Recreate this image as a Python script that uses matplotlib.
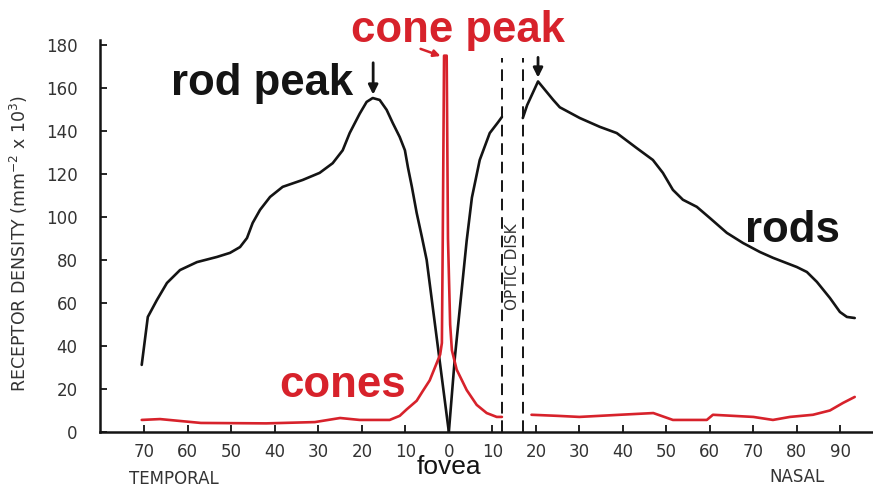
import matplotlib
matplotlib.use("Agg")
import matplotlib.pyplot as plt
import numpy as np

plt.rcParams['font.family'] = ['Liberation Sans', 'DejaVu Sans']

BLACK = '#141414'
RED = '#d7222b'
GREY = '#333333'

# eccentricity in degrees, temporal side negative
rods_temporal_x = [-70.6, -69.2, -67.1, -64.8, -61.8, -57.9, -53.3, -50.3, -48, -46.4, -45.1,
                   -43.4, -41.1, -38.2, -33.6, -29.7, -26.7, -24.4, -22.8, -20.5, -18.9,
                   -17.5, -15.9, -14.3, -12.9, -11.3, -10.1, -9.4, -8.5, -7.4, -6.2, -5.1, 0]
rods_temporal_y = [31.2, 53.5, 61.4, 69.3, 75.3, 79, 81.4, 83.3, 86, 90.2, 97.2,
                   103.3, 109.3, 114, 117.2, 120.5, 125, 131, 139, 148, 153.5,
                   155.3, 154.4, 149.8, 143.7, 137.2, 131, 123, 114, 101.9, 90.7, 80, 0]

rods_inner_nasal_x = [0, 1.4, 4.1, 5.3, 7.1, 9.4, 11.3, 12.2]
rods_inner_nasal_y = [0, 35, 89, 109, 126.5, 139, 144, 146.5]

rods_nasal_x = [17, 18, 20.5, 24, 25.5, 30.1, 34.7, 38.6, 43.2, 46.9, 49.2, 51.5, 53.8, 57,
                60, 63.9, 67.6, 71.5, 74.5, 80, 82.3, 84.6, 87.6, 89.9, 91.5, 93.3]
rods_nasal_y = [146, 152, 163, 154.4, 151, 146, 141.9, 139, 132, 126.5, 120.5, 112.6, 108, 104.7,
                99.5, 92.6, 87.9, 83.7, 81, 76.7, 74.4, 69.8, 62.3, 55.8, 53.5, 53]

cones_central_x = [-70.6, -66.4, -57, -42, -30.8, -25, -20.5, -13.6, -11.3, -9.7, -7.4, -6,
                   -4.4, -3.2, -2, -1.6, -1.4, -1.1, -0.5, -0.2, 0.3, 0.7, 1.8, 4.1, 6.4,
                   8.7, 11, 12.2]
cones_central_y = [5.6, 6, 4.2, 4, 4.6, 6.5, 5.6, 5.6, 7.5, 10.5, 14.5, 19,
                   24, 30, 36, 41.4, 90, 175, 175, 90, 50, 38, 29, 19.5, 12.6,
                   8.8, 7, 7]

cones_nasal_x = [19, 25, 30, 39.3, 47, 51.5, 59.3, 60.7, 70, 74.5, 78.4, 83.7, 87.6, 90.6, 93.3]
cones_nasal_y = [8, 7.5, 7, 8, 8.8, 5.6, 5.6, 8, 7, 5.6, 7, 8, 10, 13.5, 16.3]

optic_disk_edges = [12.2, 17]
x_ticks = [-70, -60, -50, -40, -30, -20, -10, 0, 10, 20, 30, 40, 50, 60, 70, 80, 90]
y_ticks = [0, 20, 40, 60, 80, 100, 120, 140, 160, 180]

fig = plt.figure(figsize=(8.73, 4.88), dpi=100)
ax = fig.add_axes([0.1145, 0.1148, 0.8855, 0.8033])

lw = 1.9
line_kw = dict(lw=lw, solid_joinstyle='round', solid_capstyle='round')
ax.plot(rods_temporal_x, rods_temporal_y, color=BLACK, **line_kw)
ax.plot(rods_inner_nasal_x, rods_inner_nasal_y, color=BLACK, **line_kw)
ax.plot(rods_nasal_x, rods_nasal_y, color=BLACK, **line_kw)
ax.plot(cones_central_x, cones_central_y, color=RED, **line_kw)
ax.plot(cones_nasal_x, cones_nasal_y, color=RED, **line_kw)

# optic disk boundaries
for xd in optic_disk_edges:
    ax.plot([xd, xd], [0, 174], color=BLACK, lw=1.4, linestyle=(0, (6, 3.5)))
ax.text(np.mean(optic_disk_edges), 77, 'OPTIC DISK', rotation=90, ha='center', va='center',
        fontsize=11, color=GREY, family='DejaVu Sans')

ax.set_xlim(-80.2, 97.5)
ax.set_ylim(0, 182.3)
ax.set_xticks(x_ticks)
ax.set_xticklabels([str(abs(t)) for t in x_ticks])
ax.set_yticks(y_ticks)
for s in ['top', 'right']:
    ax.spines[s].set_visible(False)
for s in ['left', 'bottom']:
    ax.spines[s].set_linewidth(1.8)
    ax.spines[s].set_color(BLACK)
ax.tick_params(axis='both', direction='in', length=5, width=1.3, colors=BLACK,
               labelcolor=GREY, labelsize=12)
ax.tick_params(axis='x', pad=8)
ax.tick_params(axis='y', pad=16)
for lab in ax.get_xticklabels() + ax.get_yticklabels():
    lab.set_family('DejaVu Sans')

ax.set_ylabel('RECEPTOR DENSITY (mm$^{-2}$ x 10$^3$)', fontsize=12.5, color=GREY,
              family='DejaVu Sans')
ax.yaxis.set_label_coords(-0.09, 0.48)

# annotations
big = 31.5
ax.text(2.2, 181.5, 'cone peak', color=RED, fontsize=big, fontweight='bold',
        ha='center', va='baseline', clip_on=False)
ax.annotate('', xy=(-1.3, 174.4), xytext=(-7.1, 178.6),
            arrowprops=dict(arrowstyle='-|>', color=RED, lw=1.8, mutation_scale=10))
ax.text(-22.1, 156.7, 'rod peak', color=BLACK, fontsize=big, fontweight='bold',
        ha='right', va='baseline')
ax.annotate('', xy=(-17.4, 155.6), xytext=(-17.4, 173),
            arrowprops=dict(arrowstyle='-|>', color=BLACK, lw=2, mutation_scale=14))
ax.annotate('', xy=(20.5, 163.5), xytext=(20.5, 175.5),
            arrowprops=dict(arrowstyle='-|>', color=BLACK, lw=2, mutation_scale=14))
ax.text(68, 88.4, 'rods', color=BLACK, fontsize=big, fontweight='bold', ha='left', va='baseline')
ax.text(-38.9, 16.3, 'cones', color=RED, fontsize=big, fontweight='bold', ha='left', va='baseline')

ax.text(0, -19.6, 'fovea', color=BLACK, fontsize=19, ha='center', va='baseline', clip_on=False)
ax.text(-63.3, -24.3, 'TEMPORAL', color=GREY, fontsize=12, ha='center', va='baseline',
        clip_on=False, family='DejaVu Sans')
ax.text(80, -23.3, 'NASAL', color=GREY, fontsize=12, ha='center', va='baseline',
        clip_on=False, family='DejaVu Sans')

fig.savefig('out.png', dpi=100)
